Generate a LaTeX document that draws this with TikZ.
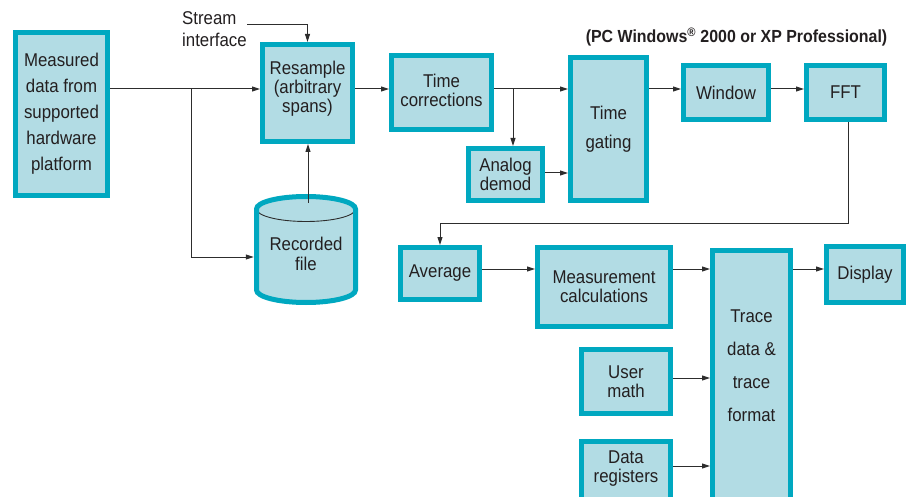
\documentclass[tikz,border=0pt]{standalone}
\usepackage{fontspec}
\setmainfont{Liberation Sans}[FakeStretch=0.91]
\usetikzlibrary{arrows.meta,calc}
\definecolor{bordc}{RGB}{0,168,192}
\definecolor{fillc}{RGB}{178,220,228}
\definecolor{txtc}{RGB}{35,31,32}
\definecolor{linec}{RGB}{45,45,45}
\newcommand\fsz[1]{\fontsize{18.5}{#1}\selectfont}
\begin{document}
\begin{tikzpicture}[x=1pt,y=-1pt,
  box/.style={draw=bordc, fill=fillc, line width=5pt, inner sep=0pt, align=center, text=txtc, font=\fsz{19}},
  txt/.style={inner sep=0pt, align=center, text=txtc, font=\fsz{19}},
  arr/.style={draw=linec, line width=1pt, -{Triangle[length=8pt,width=5pt]}},
  ln/.style={draw=linec, line width=1pt}]
\useasboundingbox[fill=white] (0,0) rectangle (907,497);
\clip (0,0) rectangle (907,497);
% helper levels
\coordinate (L1) at (0,89);
\coordinate (L2) at (0,269);
\coordinate (L3) at (0,257);
\coordinate (L4) at (0,173);
\coordinate (L5) at (0,223);
\coordinate (L6) at (0,378);
\coordinate (L7) at (0,466);
% title
\node[txt, font=\fontsize{17.5}{20}\selectfont\bfseries] (title) at (736.5,37) {(PC Windows\textsuperscript{®} 2000 or XP Professional)};
% boxes
\node[box, minimum width=92, minimum height=163, font=\fsz{26}] (meas) at (61.5,114) {Measured\\data from\\supported\\hardware\\platform};
\node[box, minimum width=90, minimum height=97] (resample) at (307.5,93) {};
\node[txt] (resample-t) at (307.5,89) {Resample\\(arbitrary\\spans)};
\node[box, minimum width=100, minimum height=74] (timecorr) at (441.5,92.5) {};
\node[txt] (timecorr-t) at (441.5,90) {Time\\corrections};
\node[box, minimum width=74, minimum height=52] (analog) at (505.5,174.5) {Analog\\demod};
\node[box, minimum width=76, minimum height=143, font=\fsz{29}] (gating) at (608.5,129) {Time\\gating};
\node[box, minimum width=85, minimum height=54] (window) at (726,92.5) {Window};
\node[box, minimum width=78, minimum height=54] (fft) at (845.5,92.5) {FFT};
\node[box, minimum width=79, minimum height=52] (average) at (440,273.5) {Average};
\node[box, minimum width=133, minimum height=79] (meascalc) at (604,287) {Measurement\\calculations};
\node[box, minimum width=78, minimum height=270, anchor=north] (trace) at (751.5,247.5) {};
\node[txt, font=\fsz{33}] (trace-t) at (751.5,366) {Trace\\data \&\\trace\\format};
\node[box, minimum width=77, minimum height=56] (display) at (865,274.5) {Display};
\node[box, minimum width=89, minimum height=64] (usermath) at (626,381.5) {User\\math};
\node[box, minimum width=89, minimum height=100, anchor=north] (datareg) at (626,438.5) {};
\node[txt] (datareg-t) at (626,468.5) {Data\\registers};
% cylinder
\path[fill=fillc] (256.5,209) -- (256.5,290) arc[start angle=180,end angle=0,x radius=49.5,y radius=12.5]
  -- (355.5,209) arc[start angle=360,end angle=180,x radius=49.5,y radius=12.5] -- cycle;
\draw[linec, line width=0.9pt] (256.5,209) arc[start angle=180,end angle=0,x radius=49.5,y radius=12.5];
\draw[bordc, line width=5pt] (256.5,209) -- (256.5,290) arc[start angle=180,end angle=0,x radius=49.5,y radius=12.5]
  -- (355.5,209) arc[start angle=360,end angle=180,x radius=49.5,y radius=12.5] -- cycle;
\node[minimum width=104, minimum height=111, inner sep=0pt] (cyl) at (306,249.5) {};
\node[txt, font=\fsz{20}] (cyl-t) at (306,254) {Recorded\\file};
% stream interface
\node[txt, align=left, anchor=west, font=\fsz{22}] (stream) at (182,29) {Stream\\interface};
% connectors
\coordinate (s0) at (247,25);
\draw[arr] (s0) -| (resample.north);
\draw[arr] (meas.east |- L1) -- (resample.west |- L1);
\coordinate (j1) at (191,89);
\draw[arr] (j1) |- (cyl.west |- L3);
\coordinate (ctop) at (308,203);
\draw[arr] (ctop) -- (ctop |- resample.south);
\draw[arr] (resample.east |- L1) -- (timecorr.west |- L1);
\draw[arr] (timecorr.east |- L1) -- (gating.west |- L1);
\coordinate (j2) at (513,89);
\draw[arr] (j2) -- (j2 |- analog.north);
\draw[arr] (analog.east |- L4) -- (gating.west |- L4);
\draw[arr] (gating.east |- L1) -- (window.west |- L1);
\draw[arr] (window.east |- L1) -- (fft.west |- L1);
\draw[arr] ([xshift=2.5pt]fft.south) -- ([xshift=2.5pt]fft.south |- L5) -| (average.north);
\draw[arr] (average.east |- L2) -- (meascalc.west |- L2);
\draw[arr] (meascalc.east |- L2) -- (trace.west |- L2);
\draw[arr] (trace.east |- L2) -- (display.west |- L2);
\draw[arr] (usermath.east |- L6) -- (trace.west |- L6);
\draw[arr] (datareg.east |- L7) -- (trace.west |- L7);
\end{tikzpicture}
\end{document}
